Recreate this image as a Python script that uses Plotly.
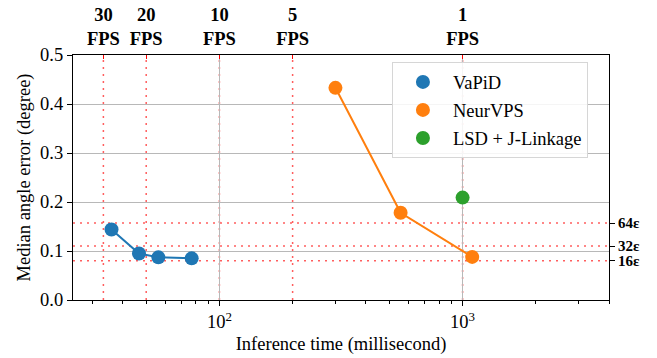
import plotly.graph_objects as go
import numpy as np

# ---- data ----
vapid_ms = [36, 46.7, 56.1, 76.9]
vapid_err = [0.144, 0.095, 0.087, 0.085]
neurvps_ms = [300, 556, 1095]
neurvps_err = [0.433, 0.178, 0.088]
lsd_ms = [1000]
lsd_err = [0.209]

fps_vals = [30, 20, 10, 5, 1]
fps_labels = ["30", "20", "10", "5", "1"]
eps_vals = [0.157, 0.110, 0.080]
eps_labels = ["64ε", "32ε", "16ε"]

x_range = [25, 4000]
y_range = [0, 0.5]

C_BLUE = "#1f77b4"
C_ORANGE = "#ff7f0e"
C_GREEN = "#2ca02c"
FONT = "Liberation Serif"
DOT = "rgba(255,40,40,0.75)"

fig = go.Figure()

fig.add_trace(go.Scatter(x=vapid_ms, y=vapid_err, mode="lines",
                         line=dict(color=C_BLUE, width=2), showlegend=False, hoverinfo="skip"))
fig.add_trace(go.Scatter(x=neurvps_ms, y=neurvps_err, mode="lines",
                         line=dict(color=C_ORANGE, width=2), showlegend=False, hoverinfo="skip"))
fig.add_trace(go.Scatter(x=vapid_ms, y=vapid_err, mode="markers", name="VaPiD",
                         legendgroup="a", marker=dict(color=C_BLUE, size=14)))
fig.add_trace(go.Scatter(x=neurvps_ms, y=neurvps_err, mode="markers", name="NeurVPS",
                         legendgroup="b", marker=dict(color=C_ORANGE, size=14)))
fig.add_trace(go.Scatter(x=lsd_ms, y=lsd_err, mode="markers", name="LSD + J-Linkage",
                         legendgroup="c", marker=dict(color=C_GREEN, size=14)))

fps_ms = [1000.0 / f for f in fps_vals]
fig.add_trace(go.Scatter(x=fps_ms, y=[None] * len(fps_ms), xaxis="x2", yaxis="y",
                         showlegend=False, hoverinfo="skip"))
fig.add_trace(go.Scatter(x=[100], y=[None], xaxis="x3", yaxis="y",
                         showlegend=False, hoverinfo="skip"))
fig.add_trace(go.Scatter(x=[100], y=eps_vals, xaxis="x", yaxis="y2", mode="markers",
                         marker=dict(opacity=0), showlegend=False, hoverinfo="skip"))

shapes = []
for ms in fps_ms:
    shapes.append(dict(type="line", xref="x", yref="paper", x0=ms, x1=ms, y0=0, y1=1,
                       line=dict(color=DOT, width=1.5, dash="2px,5px"), layer="between"))
for e in eps_vals:
    shapes.append(dict(type="line", xref="paper", yref="y", x0=0, x1=1, y0=e, y1=e,
                       line=dict(color=DOT, width=1.5, dash="2px,5px"), layer="between"))
fig.update_layout(shapes=shapes)

lx = [np.log10(x_range[0]), np.log10(x_range[1])]
minor_vals = [30, 40, 50, 60, 70, 80, 90, 200, 300, 400, 500, 600, 700, 800, 900,
              2000, 3000, 4000]

def f(size):
    return dict(family=FONT, size=size, color="black")

fig.update_layout(
    width=657, height=358,
    margin=dict(l=73, r=48, t=55, b=58),
    paper_bgcolor="white", plot_bgcolor="white",
    font=f(18),
    xaxis=dict(type="log", range=lx, tickvals=[100, 1000],
               ticktext=["10<sup>2</sup>", "10<sup>3</sup>"],
               ticks="outside", ticklen=5, tickcolor="black",
               showline=True, linecolor="black", linewidth=1.2, mirror=True,
               showgrid=True, gridcolor="#b8b8b8", gridwidth=1.2, zeroline=False,
               automargin=False,
               title=dict(text="Inference time (millisecond)", standoff=5, font=f(18.5)),
               tickfont=f(18.5)),
    xaxis2=dict(type="log", range=lx, overlaying="x", side="top", anchor="y",
                tickvals=fps_ms,
                ticktext=[f"<b>{l}<br>FPS</b>" for l in fps_labels],
                ticks="inside", ticklen=4, tickcolor="red", ticklabelstandoff=5,
                showgrid=False, showline=False, zeroline=False, automargin=False,
                tickfont=f(18.5)),
    xaxis3=dict(type="log", range=lx, overlaying="x", side="bottom", anchor="y",
                tickvals=minor_vals, showticklabels=False,
                ticks="outside", ticklen=3, tickcolor="black", automargin=False,
                showgrid=False, showline=False, zeroline=False),
    yaxis=dict(range=y_range, tickvals=[0, 0.1, 0.2, 0.3, 0.4, 0.5],
               ticktext=["0.0", "0.1", "0.2", "0.3", "0.4", "0.5"],
               ticks="outside", ticklen=5, tickcolor="black",
               showline=True, linecolor="black", linewidth=1.2, mirror=True,
               showgrid=True, gridcolor="#b8b8b8", gridwidth=1.2, zeroline=False,
               automargin=False,
               title=dict(text="Median angle error (degree)", standoff=4, font=f(18.5)),
               tickfont=f(18.5)),
    yaxis2=dict(range=y_range, overlaying="y", side="right", anchor="x",
                tickvals=eps_vals, ticktext=[f"<b>{l}</b>" for l in eps_labels],
                ticks="outside", ticklen=5, tickcolor="black", automargin=False,
                showgrid=False, showline=False, zeroline=False,
                tickfont=f(15)),
    legend=dict(x=0.595, y=0.97, xanchor="left", yanchor="top",
                bgcolor="rgba(255,255,255,0.85)", bordercolor="#d6d6d6", borderwidth=1,
                font=f(18.5), traceorder="grouped", tracegroupgap=1,
                itemsizing="trace", itemwidth=50),
    showlegend=True,
)

fig.write_html("out.html", post_script="document.body.style.margin='0';",
               config={"displayModeBar": False})
